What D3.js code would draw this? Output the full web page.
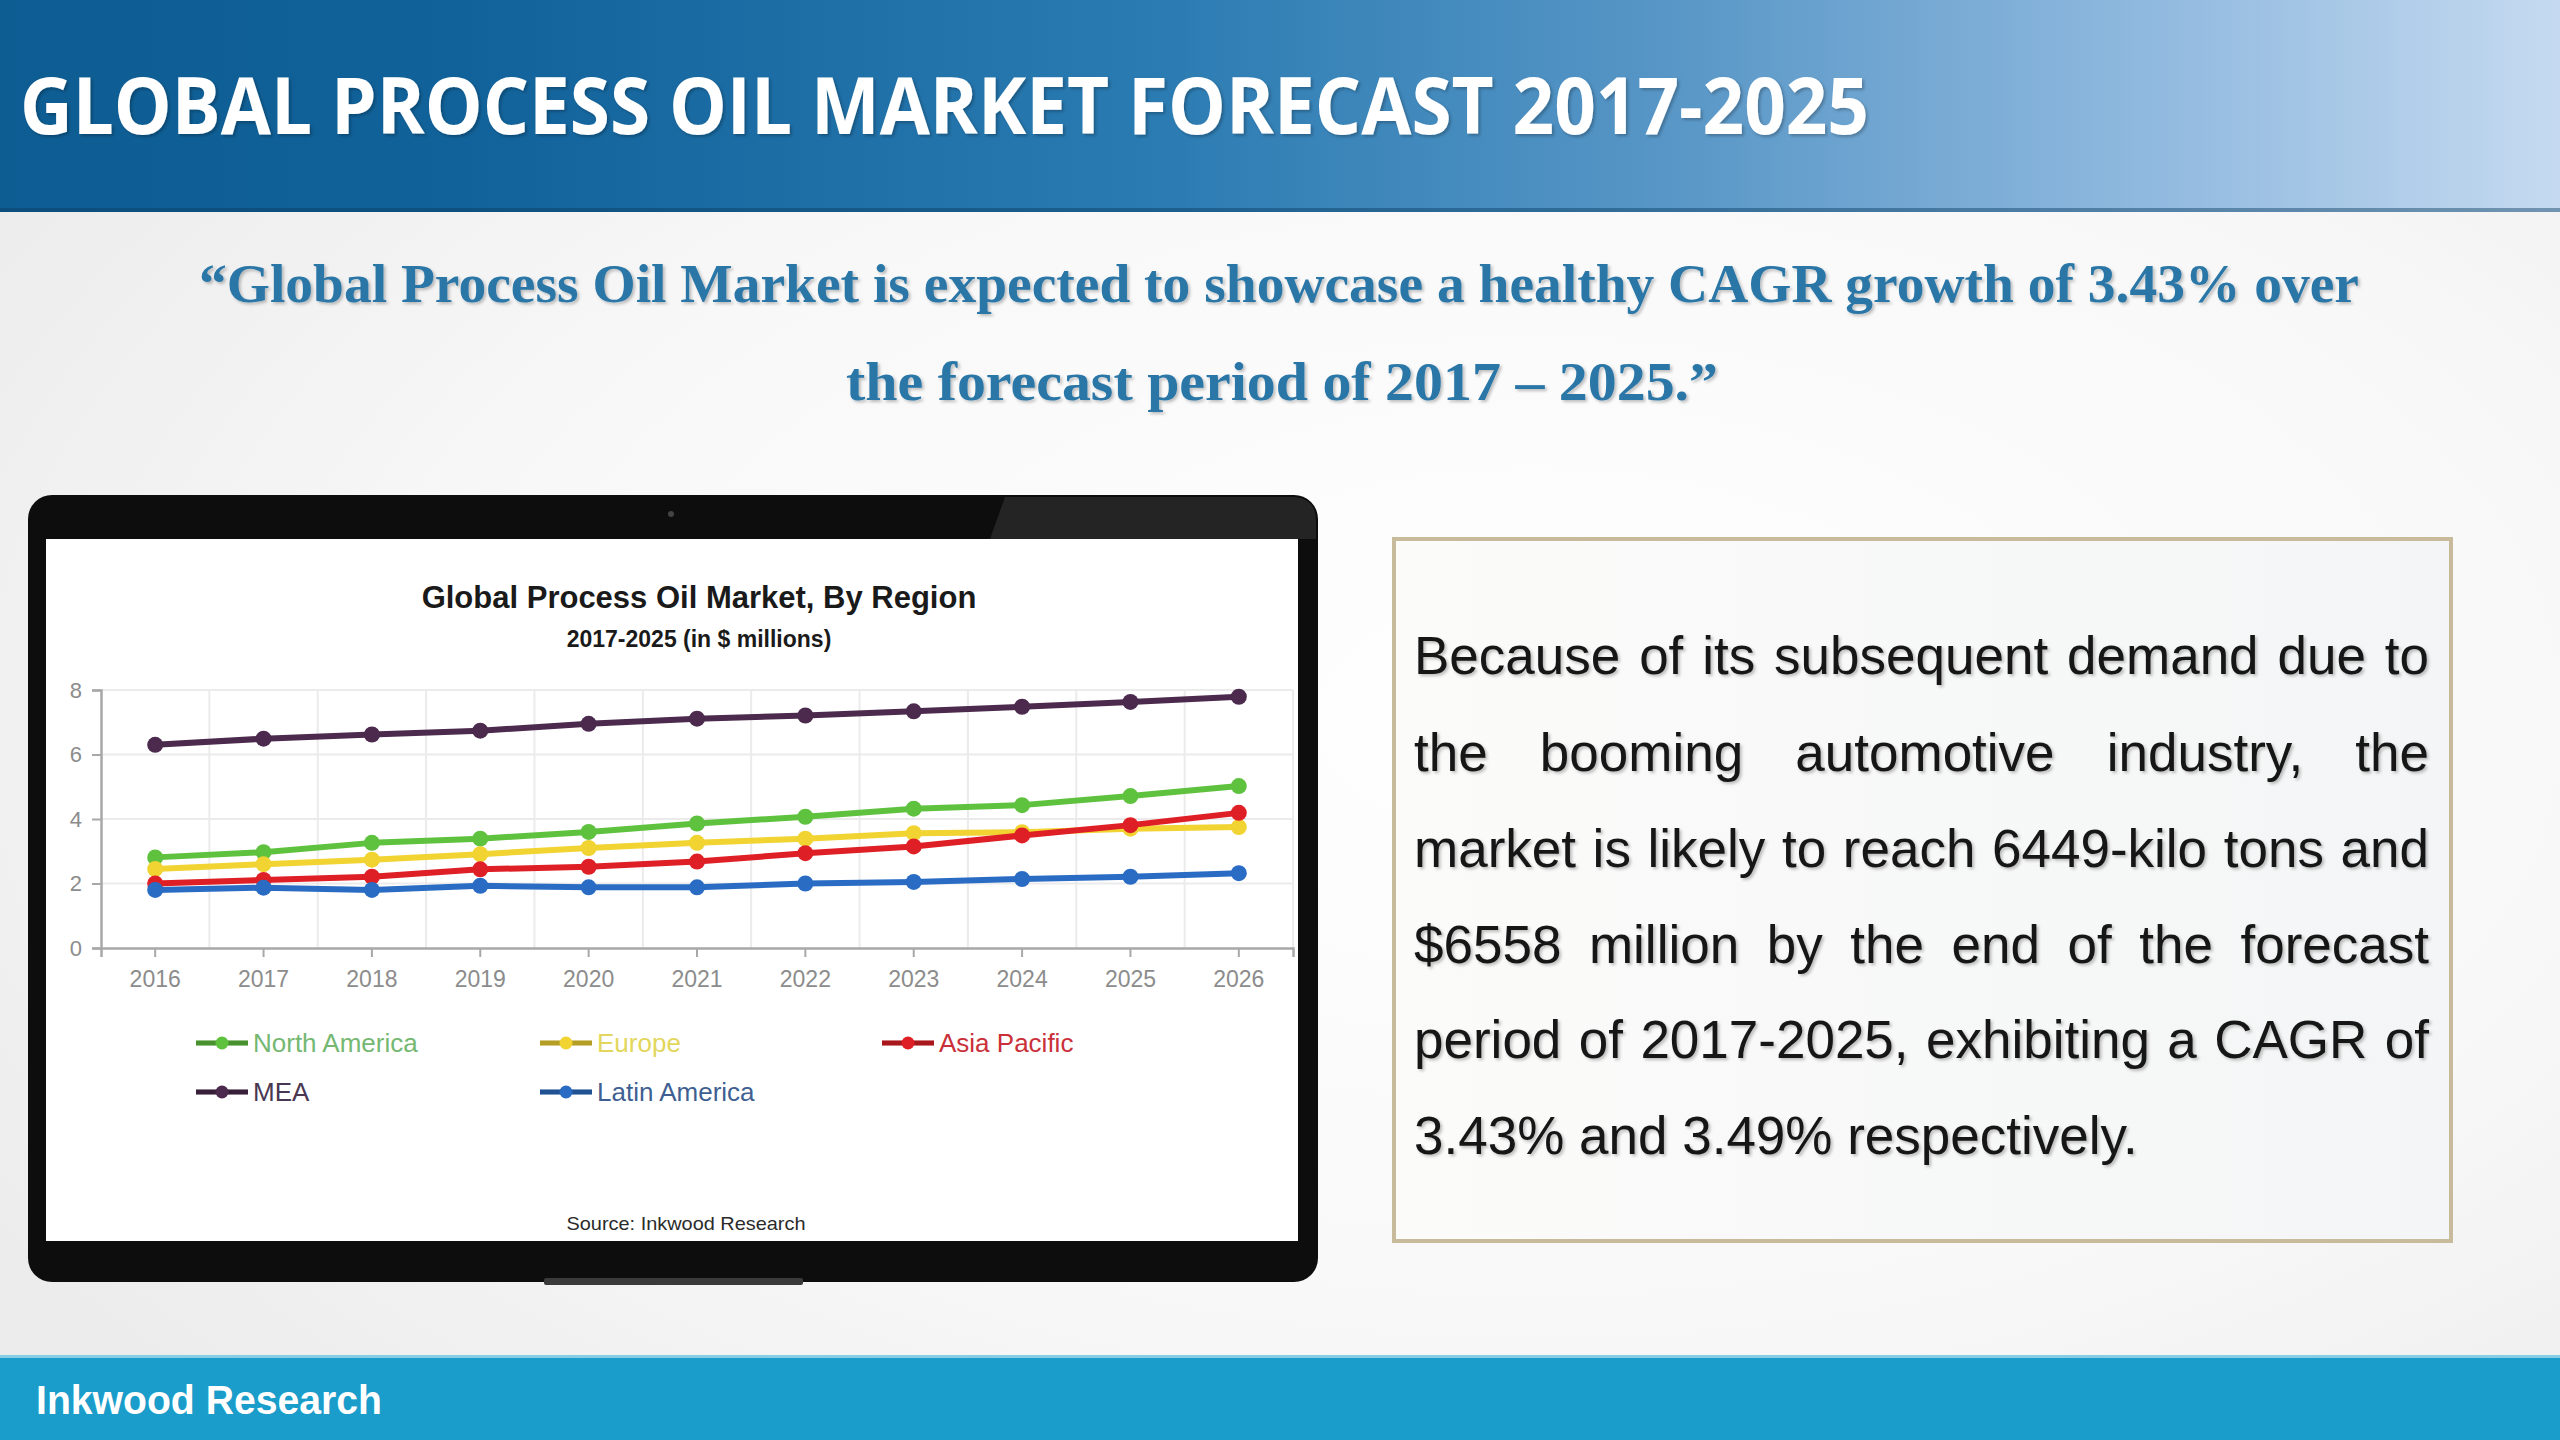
<!DOCTYPE html>
<html>
<head>
<meta charset="utf-8">
<script src="https://cdn.jsdelivr.net/npm/d3@7"></script>
<style>
html,body{margin:0;padding:0;background:#f3f3f3;}
svg{display:block;}
</style>
</head>
<body>
<svg id="root" width="2560" height="1440"></svg>
<script>
// ---------- DATA ----------
const years = ["2016","2017","2018","2019","2020","2021","2022","2023","2024","2025","2026"];
const yTicks = [0, 2, 4, 6, 8];
const seriesNames = ["North America", "Europe", "Asia Pacific", "MEA", "Latin America"];
const northAmerica = [2.81, 2.97, 3.26, 3.39, 3.60, 3.86, 4.07, 4.32, 4.43, 4.71, 5.02];
const europe       = [2.45, 2.60, 2.74, 2.91, 3.10, 3.26, 3.39, 3.56, 3.59, 3.70, 3.75];
const asiaPacific  = [2.00, 2.11, 2.21, 2.44, 2.52, 2.68, 2.94, 3.15, 3.49, 3.81, 4.19];
const mea          = [6.30, 6.49, 6.62, 6.74, 6.95, 7.11, 7.21, 7.34, 7.48, 7.63, 7.79];
const latinAmerica = [1.80, 1.87, 1.80, 1.93, 1.88, 1.88, 2.00, 2.05, 2.14, 2.21, 2.32];
const seriesColors = ["#5fc23f", "#f1d332", "#df1f26", "#4b2a4d", "#2a6cc4"];
const legendTextColors = ["#74b872", "#e2d65c", "#c9303a", "#4a3752", "#3f5f92"];
const headerTitle = "GLOBAL PROCESS OIL MARKET FORECAST 2017-2025";
const quoteLine1 = "\u201CGlobal Process Oil Market is expected to showcase a healthy CAGR growth of 3.43% over";
const quoteLine2 = "the forecast period of 2017 \u2013 2025.\u201D";
const chartTitle = "Global Process Oil Market, By Region";
const chartSubtitle = "2017-2025 (in $ millions)";
const sourceText = "Source: Inkwood Research";
const bodyLines = [
  "Because of its subsequent demand due to",
  "the booming automotive industry, the",
  "market is likely to reach 6449-kilo tons and",
  "$6558 million by the end of the forecast",
  "period of 2017-2025, exhibiting a CAGR of",
  "3.43% and 3.49% respectively."
];
const footerText = "Inkwood Research";

const seriesValues = [northAmerica, europe, asiaPacific, mea, latinAmerica];

// ---------- SETUP ----------
const svg = d3.select("#root");
const defs = svg.append("defs");

const hg = defs.append("linearGradient").attr("id","hdr").attr("x1","0").attr("x2","1").attr("y1","0").attr("y2","0");
[["0%","#0d5d93"],["18%","#11629a"],["45%","#2a7bb2"],["65%","#5796c6"],["85%","#93bbe0"],["100%","#c5daf0"]]
  .forEach(s=>hg.append("stop").attr("offset",s[0]).attr("stop-color",s[1]));

const bg = defs.append("radialGradient").attr("id","bg").attr("cx","0.6").attr("cy","0.5").attr("r","0.7");
bg.append("stop").attr("offset","0%").attr("stop-color","#ffffff");
bg.append("stop").attr("offset","60%").attr("stop-color","#f8f8f8");
bg.append("stop").attr("offset","100%").attr("stop-color","#ececec");

const boxg = defs.append("linearGradient").attr("id","boxg").attr("x1","0").attr("x2","1");
boxg.append("stop").attr("offset","0%").attr("stop-color","#fbfbfa");
boxg.append("stop").attr("offset","100%").attr("stop-color","#f4f5f6");

const sh = defs.append("filter").attr("id","tshadow").attr("x","-5%").attr("y","-20%").attr("width","110%").attr("height","140%");
sh.append("feDropShadow").attr("dx",2).attr("dy",2).attr("stdDeviation",1.5).attr("flood-color","#000").attr("flood-opacity",0.25);

// background
svg.append("rect").attr("x",0).attr("y",0).attr("width",2560).attr("height",1440).attr("fill","url(#bg)");

// header
svg.append("rect").attr("x",0).attr("y",0).attr("width",2560).attr("height",212).attr("fill","url(#hdr)");
svg.append("rect").attr("x",0).attr("y",208).attr("width",2560).attr("height",4).attr("fill","#0b3f63").attr("opacity",0.45);
svg.append("text").attr("x",20).attr("y",134)
  .attr("font-family","'Open Sans', 'Noto Sans', sans-serif").attr("font-weight",700)
  .attr("font-size",78).attr("fill","#ffffff")
  .attr("textLength",1849).attr("lengthAdjust","spacingAndGlyphs")
  .attr("filter","url(#tshadow)")
  .text(headerTitle);

// quote
const qStyle = sel => sel.attr("font-family","'Liberation Serif','DejaVu Serif',serif").attr("font-weight",700)
  .attr("font-size",54).attr("fill","#2a76a7").attr("filter","url(#tshadow)");
svg.append("text").attr("x",199).attr("y",302).call(qStyle)
  .attr("textLength",2160).attr("lengthAdjust","spacingAndGlyphs").text(quoteLine1);
svg.append("text").attr("x",846).attr("y",400).call(qStyle)
  .attr("textLength",872).attr("lengthAdjust","spacingAndGlyphs").text(quoteLine2);

// ---------- LAPTOP ----------
const lap = svg.append("g");
lap.append("rect").attr("x",28).attr("y",495).attr("width",1290).attr("height",787).attr("rx",24).attr("fill","#0d0d0d");
lap.append("path").attr("d","M1005,497 L1294,497 Q1316,499 1316,520 L1316,539 L990,539 Z").attr("fill","#2a2a2a").attr("opacity",0.8);
lap.append("circle").attr("cx",671).attr("cy",514).attr("r",3).attr("fill","#444");
lap.append("rect").attr("x",46).attr("y",539).attr("width",1252).attr("height",702).attr("fill","#ffffff");
lap.append("rect").attr("x",544).attr("y",1278).attr("width",259).attr("height",7).attr("rx",2).attr("fill","#3a3a3a");

// ---------- CHART ----------
const x = d3.scaleBand().domain(years).range([101, 1293]).padding(0);
const y = d3.scaleLinear().domain([0, 8]).range([948, 690]);
const cx = d => x(d) + x.bandwidth()/2;

const chart = svg.append("g");
chart.append("text").attr("x",699).attr("y",608).attr("text-anchor","middle")
  .attr("font-family","'Liberation Sans', Arial, sans-serif").attr("font-weight",700).attr("font-size",31).attr("fill","#1a1a1a")
  .text(chartTitle);
chart.append("text").attr("x",699).attr("y",647).attr("text-anchor","middle")
  .attr("font-family","'Liberation Sans', Arial, sans-serif").attr("font-weight",700).attr("font-size",23).attr("fill","#1a1a1a")
  .text(chartSubtitle);

// gridlines
chart.append("g").selectAll("line.h").data(yTicks.filter(t=>t>0)).join("line")
  .attr("x1",x.range()[0]).attr("x2",x.range()[1]).attr("y1",d=>y(d)).attr("y2",d=>y(d))
  .attr("stroke","#ebebeb").attr("stroke-width",2);
chart.append("g").selectAll("line.v").data(years).join("line")
  .attr("x1",d=>x(d)+x.bandwidth()).attr("x2",d=>x(d)+x.bandwidth())
  .attr("y1",y(8)).attr("y2",y(0))
  .attr("stroke","#ebebeb").attr("stroke-width",2);

// axes
const yAxis = chart.append("g").attr("transform",`translate(${x.range()[0]},0)`)
  .call(d3.axisLeft(y).tickValues(yTicks).tickSize(9).tickPadding(10).tickFormat(d3.format("d")));
const xAxis = chart.append("g").attr("transform",`translate(0,${y(0)})`)
  .call(d3.axisBottom(x).tickSize(9).tickPadding(14));
[yAxis, xAxis].forEach(a=>{
  a.select(".domain").attr("stroke","#a8a8a8").attr("stroke-width",2.5);
  a.selectAll(".tick line").attr("stroke","#a8a8a8").attr("stroke-width",2);
  a.selectAll(".tick text").attr("fill","#8c8c8c").attr("font-family","'Liberation Sans', Arial, sans-serif");
});
yAxis.selectAll(".tick text").attr("font-size",22);
xAxis.selectAll(".tick text").attr("font-size",23);

// lines
const line = d3.line().x((v,i)=>cx(years[i])).y(v=>y(v));
seriesValues.forEach((vals,si)=>{
  const g = chart.append("g");
  g.append("path").attr("d",line(vals)).attr("fill","none")
    .attr("stroke",seriesColors[si]).attr("stroke-width",6).attr("stroke-linejoin","round");
  g.selectAll("circle").data(vals).join("circle")
    .attr("cx",(v,i)=>cx(years[i])).attr("cy",v=>y(v)).attr("r",8)
    .attr("fill",seriesColors[si]);
});

// legend
const legendPos = [[196,1043],[540,1043],[882,1043],[196,1092],[540,1092]];
seriesNames.forEach((name,i)=>{
  const [lx,ly] = legendPos[i];
  const g = chart.append("g");
  g.append("line").attr("x1",lx).attr("x2",lx+52).attr("y1",ly).attr("y2",ly)
    .attr("stroke",seriesColors[i]).attr("stroke-width",5);
  g.append("line").attr("x1",lx).attr("x2",lx+52).attr("y1",ly).attr("y2",ly)
    .attr("stroke","#000").attr("stroke-opacity",0.25).attr("stroke-width",5);
  g.append("circle").attr("cx",lx+26).attr("cy",ly).attr("r",6.5).attr("fill",seriesColors[i]);
  g.append("text").attr("x",lx+57).attr("y",ly+9)
    .attr("font-family","'Liberation Sans', Arial, sans-serif").attr("font-size",26)
    .attr("fill",legendTextColors[i]).text(name);
});

chart.append("text").attr("x",686).attr("y",1230).attr("text-anchor","middle")
  .attr("font-family","'Liberation Sans Narrow','Liberation Sans', Arial, sans-serif").attr("font-size",19)
  .attr("fill","#2b2b2b").attr("textLength",239).attr("lengthAdjust","spacingAndGlyphs").text(sourceText);

// ---------- TEXT BOX ----------
svg.append("rect").attr("x",1394).attr("y",539).attr("width",1057).attr("height",702)
  .attr("fill","url(#boxg)").attr("stroke","#c8bb9b").attr("stroke-width",4);

const bx0 = 1414, bx1 = 2429, fs = 53;
const bodyG = svg.append("g").attr("font-family","'Liberation Sans', Arial, sans-serif")
  .attr("font-size",fs).attr("fill","#151515").attr("filter","url(#tshadow)");
const meas = svg.append("text").attr("font-family","'Liberation Sans', Arial, sans-serif").attr("font-size",fs).attr("visibility","hidden");
const wWidth = w => { meas.text(w); return meas.node().getComputedTextLength(); };
const spaceW = wWidth("a b") - wWidth("ab");
const baselines = [674, 771, 867, 963, 1058, 1154];
bodyLines.forEach((ln,li)=>{
  const ws = ln.split(" ");
  const by = baselines[li];
  const widths = ws.map(wWidth);
  const total = widths.reduce((a,b)=>a+b,0);
  const last = li === bodyLines.length-1;
  let gap = (!last && ws.length>1) ? (bx1-bx0-total)/(ws.length-1) : spaceW;
  let k = 1;
  if (gap < spaceW*0.6 && !last) { k = (bx1-bx0-spaceW*0.6*(ws.length-1))/total; gap = spaceW*0.6; }
  let px = bx0;
  ws.forEach((w,wi)=>{
    const t = bodyG.append("text").attr("x",px).attr("y",by).text(w);
    if (k !== 1) t.attr("textLength",widths[wi]*k).attr("lengthAdjust","spacingAndGlyphs");
    px += widths[wi]*k + gap;
  });
});
meas.remove();

// ---------- FOOTER ----------
svg.append("rect").attr("x",0).attr("y",1355).attr("width",2560).attr("height",85).attr("fill","#1a9dca");
svg.append("rect").attr("x",0).attr("y",1355).attr("width",2560).attr("height",3).attr("fill","#86cde6");
svg.append("text").attr("x",36).attr("y",1414)
  .attr("font-family","'Liberation Sans', Arial, sans-serif").attr("font-weight",700).attr("font-size",41)
  .attr("fill","#ffffff").attr("textLength",346).attr("lengthAdjust","spacingAndGlyphs")
  .text(footerText);
</script>
</body>
</html>
